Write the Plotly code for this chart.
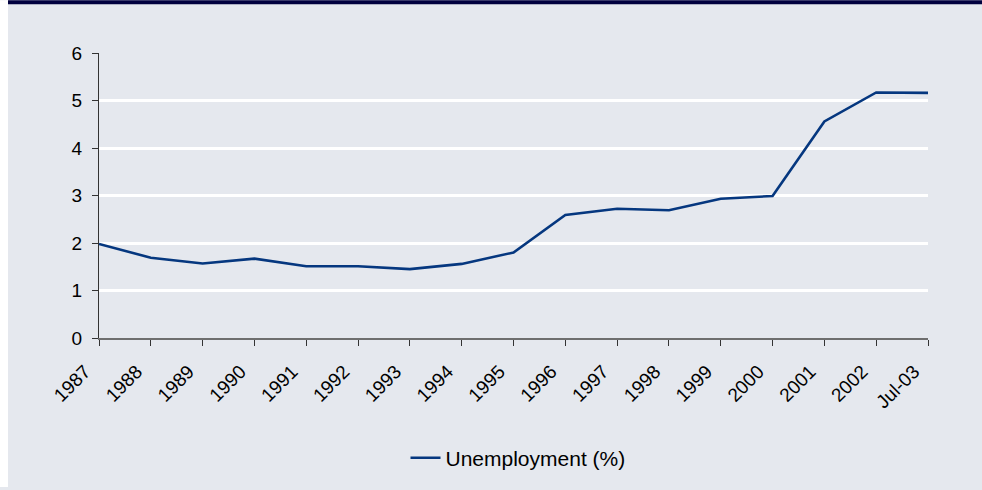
import plotly.graph_objects as go

# Annual unemployment rate, 1987 to July 2003
years = ["1987", "1988", "1989", "1990", "1991", "1992", "1993", "1994", "1995",
         "1996", "1997", "1998", "1999", "2000", "2001", "2002", "Jul-03"]
unemployment = [1.98, 1.69, 1.57, 1.67, 1.51, 1.51, 1.45, 1.56, 1.80,
                2.59, 2.72, 2.69, 2.93, 2.99, 4.56, 5.17, 5.16]
y_ticks = [0, 1, 2, 3, 4, 5, 6]

BG = "#e5e8ee"
LINE = "#05377f"
NAVY = "#00003f"
FONT = "Liberation Sans, Arial, sans-serif"

W, H = 982, 490
ML, MR, MT, MB = 99, 54, 53, 150
pw, ph = W - ML - MR, H - MT - MB

positions = list(range(len(years)))

fig = go.Figure()
fig.add_trace(go.Scatter(
    x=positions, y=unemployment, mode="lines",
    line=dict(color=LINE, width=2.6),
    name="Unemployment (%)",
))

def px_x(v):
    return (v - ML) / pw

def px_y(v):
    return (H - MB - v) / ph

# white strip at the left edge and navy band across the top
fig.add_shape(type="rect", xref="paper", yref="paper",
              x0=px_x(0), x1=px_x(8), y0=px_y(H), y1=px_y(0),
              fillcolor="white", line_width=0, layer="above")
fig.add_shape(type="rect", xref="paper", yref="paper",
              x0=px_x(8), x1=px_x(W), y0=px_y(4), y1=px_y(0),
              fillcolor=NAVY, line_width=0, layer="above")

fig.update_layout(
    width=W, height=H,
    margin=dict(l=ML, r=MR, t=MT, b=MB, pad=0),
    paper_bgcolor=BG, plot_bgcolor=BG,
    font=dict(family=FONT, size=19, color="#000000"),
    showlegend=True,
    legend=dict(x=px_x(518), xanchor="center", y=px_y(461), yanchor="middle",
                orientation="h", bgcolor="rgba(0,0,0,0)",
                font=dict(size=21, family=FONT)),
    xaxis=dict(
        range=[0, len(years) - 1],
        tickmode="array", tickvals=positions, ticktext=years,
        tickangle=-45,
        showgrid=False, zeroline=False,
        showline=True, linecolor="#6e6e6e", linewidth=2,
        ticks="outside", ticklen=6, tickwidth=1.2, tickcolor="#333333",
        tickfont=dict(size=19),
        ticklabelstandoff=7, ticklabelshift=-14,
    ),
    yaxis=dict(
        range=[0, 6],
        tickmode="array", tickvals=y_ticks,
        showgrid=True, gridcolor="#ffffff", gridwidth=2.5,
        zeroline=False,
        showline=True, linecolor="#333333", linewidth=1.2,
        ticks="outside", ticklen=6, tickwidth=1.2, tickcolor="#333333",
        tickfont=dict(size=19),
        ticklabelstandoff=6,
    ),
)

fig.write_html("out.html")
